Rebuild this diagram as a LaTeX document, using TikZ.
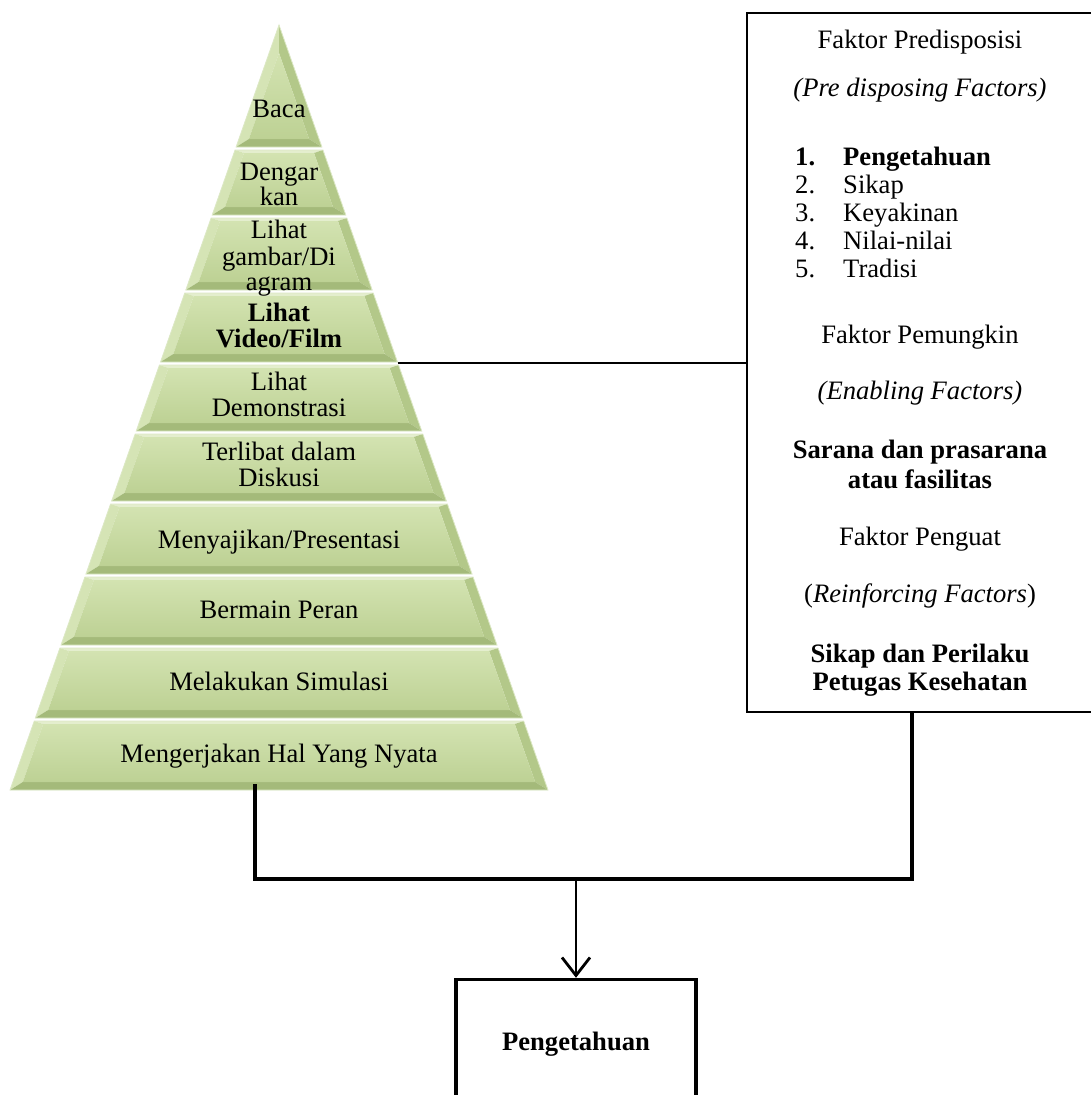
\documentclass[tikz,border=0pt]{standalone}
\usepackage{fontspec}
\setmainfont{Liberation Serif}
\usetikzlibrary{arrows.meta}
\definecolor{gtop}{HTML}{E4EECE}
\definecolor{gleft}{HTML}{D5E4B5}
\definecolor{gright}{HTML}{B3C889}
\definecolor{gbot}{HTML}{A4BA7A}
\definecolor{gfaceT}{HTML}{D3E3B1}
\definecolor{gfaceB}{HTML}{BDD194}
\definecolor{gedge}{HTML}{DCE8C5}
\tikzset{
  lbl/.style={font=\fontsize{26.6}{28}\selectfont, anchor=base, inner sep=0pt},
  lblb/.style={font=\fontsize{26.6}{28}\selectfont\bfseries, anchor=base, inner sep=0pt},
  lbli/.style={font=\fontsize{26.6}{28}\selectfont\itshape, anchor=base, inner sep=0pt},
  lst/.style={font=\fontsize{26.6}{28}\selectfont, anchor=base west, inner sep=0pt},
  lstb/.style={font=\fontsize{26.6}{28}\selectfont\bfseries, anchor=base west, inner sep=0pt},
  conn/.style={line width=3.5pt},
  thinconn/.style={line width=2.8pt},
  factorbox/.style={draw, line width=1.3pt, minimum width=348pt, minimum height=699pt, inner sep=0pt},
  resultbox/.style={draw, line width=3.5pt, minimum width=240pt, minimum height=130pt, inner sep=0pt,
    font=\fontsize{26.6}{28}\selectfont\bfseries},
}
% pyramid half width at y: 0.3516*(y-25)
\newcommand\pyrlayer[2]{%
  \pgfmathsetmacro\pyrOT{0.3516*(#1-25)}%
  \pgfmathsetmacro\pyrOB{0.3516*(#2-25)}%
  \pgfmathsetmacro\pyrIT{0.3516*(#1+3-25)-10}%
  \pgfmathsetmacro\pyrIB{0.3516*(#2-8-25)-10}%
  \fill[gtop] ({279-\pyrOT},#1) -- ({279+\pyrOT},#1) -- ({279+\pyrIT},#1+3) -- ({279-\pyrIT},#1+3) -- cycle;
  \fill[gleft] ({279-\pyrOT},#1) -- ({279-\pyrIT},#1+3) -- ({279-\pyrIB},#2-8) -- ({279-\pyrOB},#2) -- cycle;
  \fill[gright] ({279+\pyrOT},#1) -- ({279+\pyrOB},#2) -- ({279+\pyrIB},#2-8) -- ({279+\pyrIT},#1+3) -- cycle;
  \fill[gbot] ({279-\pyrOB},#2) -- ({279+\pyrOB},#2) -- ({279+\pyrIB},#2-8) -- ({279-\pyrIB},#2-8) -- cycle;
  \shade[top color=gfaceT, bottom color=gfaceB] ({279-\pyrIT},#1+3) -- ({279+\pyrIT},#1+3) -- ({279+\pyrIB},#2-8) -- ({279-\pyrIB},#2-8) -- cycle;
  \draw[gedge, line width=0.8pt] ({279-\pyrOT},#1) -- ({279+\pyrOT},#1) -- ({279+\pyrOB},#2) -- ({279-\pyrOB},#2) -- cycle;
}
\begin{document}
\begin{tikzpicture}[x=1pt, y=-1pt]
\clip (0,0) rectangle (1091,1095);
\fill[white] (0,0) rectangle (1091,1095);

% ---- pyramid: top triangle ----
\pgfmathsetmacro\pyrOB{0.3516*(147-25)}
\pgfmathsetmacro\pyrIB{0.3516*(139-25)-10}
\fill[gleft] (279,25) -- (279,53) -- ({279-\pyrIB},139) -- ({279-\pyrOB},147) -- cycle;
\fill[gright] (279,25) -- ({279+\pyrOB},147) -- ({279+\pyrIB},139) -- (279,53) -- cycle;
\fill[gbot] ({279-\pyrOB},147) -- ({279+\pyrOB},147) -- ({279+\pyrIB},139) -- ({279-\pyrIB},139) -- cycle;
\shade[top color=gfaceT, bottom color=gfaceB] (279,53) -- ({279+\pyrIB},139) -- ({279-\pyrIB},139) -- cycle;
\draw[gedge, line width=0.8pt] (279,25) -- ({279+\pyrOB},147) -- ({279-\pyrOB},147) -- cycle;

% ---- pyramid layers ----
\pyrlayer{150}{215}
\pyrlayer{218}{290}
\pyrlayer{293}{362}
\pyrlayer{365}{431}
\pyrlayer{434}{501}
\pyrlayer{504}{574}
\pyrlayer{577}{645}
\pyrlayer{648}{718}
\pyrlayer{721}{790}

% ---- pyramid labels ----
\node[lbl] (baca) at (279,117) {Baca};
\node[lbl] (dg1) at (279,180) {Dengar};
\node[lbl] (dg2) at (279,205) {kan};
\node[lbl] (lg1) at (279,238) {Lihat};
\node[lbl] (lg2) at (279,265) {gambar/Di};
\node[lbl] (lg3) at (279,290) {agram};
\node[lblb] (lv1) at (279,321) {Lihat};
\node[lblb] (lv2) at (279,347) {Video/Film};
\node[lbl] (ld1) at (279,390) {Lihat};
\node[lbl] (ld2) at (279,416) {Demonstrasi};
\node[lbl] (td1) at (279,460) {Terlibat dalam};
\node[lbl] (td2) at (279,486) {Diskusi};
\node[lbl] (mp) at (279,548) {Menyajikan/Presentasi};
\node[lbl] (bp) at (279,618) {Bermain Peran};
\node[lbl] (ms) at (279,690) {Melakukan Simulasi};
\node[lbl] (mh) at (279,762) {Mengerjakan Hal Yang Nyata};

% ---- factor box ----
\node[factorbox] (rbox) at (921,362.5) {};
\node[lbl] (f1) at (920,48) {Faktor Predisposisi};
\node[lbli] (f1e) at (920,96) {(Pre disposing Factors)};
\node[lstb] (n1) at (795,165) {1.};
\node[lstb] (t1) at (843,165) {Pengetahuan};
\node[lst] (n2) at (795,193) {2.};
\node[lst] (t2) at (843,193) {Sikap};
\node[lst] (n3) at (795,221) {3.};
\node[lst] (t3) at (843,221) {Keyakinan};
\node[lst] (n4) at (795,249) {4.};
\node[lst] (t4) at (843,249) {Nilai-nilai};
\node[lst] (n5) at (795,277) {5.};
\node[lst] (t5) at (843,277) {Tradisi};
\node[lbl] (f2) at (920,343) {Faktor Pemungkin};
\node[lbli] (f2e) at (920,399) {(Enabling Factors)};
\node[lblb] (s1) at (920,458) {Sarana dan prasarana};
\node[lblb] (s2) at (920,488) {atau fasilitas};
\node[lbl] (f3) at (920,545) {Faktor Penguat};
\node[lbl] (f3e) at (920,602) {(\textit{Reinforcing Factors})};
\node[lblb] (p1) at (920,662) {Sikap dan Perilaku};
\node[lblb] (p2) at (920,690) {Petugas Kesehatan};

% ---- result box ----
\node[resultbox] (kbox) at (576,1044.5) {Pengetahuan};

% ---- connectors ----
\coordinate (pr) at (397.5,363);
\coordinate (pb) at (255,784);
\coordinate (rb) at (912,712);
\coordinate (j) at (576,879);
\draw[thinconn] (pr) -- (pr -| rbox.west);
\draw[conn] (pb) |- (j) -| (rb);
\draw[thinconn, -{Straight Barb[length=18pt, width=28pt]}] (j) -- (kbox.north);
\end{tikzpicture}
\end{document}
